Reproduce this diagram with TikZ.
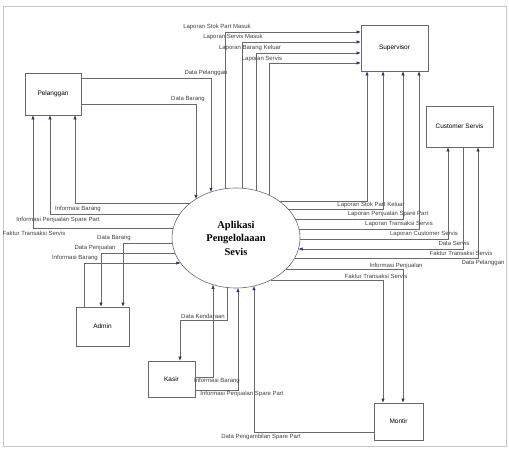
\documentclass[tikz,border=0pt]{standalone}
\usepackage{fontspec}
\setmainfont{Liberation Sans}
\newfontfamily\serifb{Liberation Serif}
\usetikzlibrary{arrows.meta,shapes.geometric}
\definecolor{linec}{RGB}{105,105,105}
\definecolor{arrowc}{RGB}{45,45,115}
\definecolor{framec}{RGB}{200,200,200}
\pgfmathdeclarefunction{etop}{1}{\begingroup\pgfmathparse{238-50*sqrt(1-((#1-236)/64)^2)}\pgfmathsmuggle\pgfmathresult\endgroup}
\pgfmathdeclarefunction{ebot}{1}{\begingroup\pgfmathparse{238+50*sqrt(1-((#1-236)/64)^2)}\pgfmathsmuggle\pgfmathresult\endgroup}
\pgfmathdeclarefunction{eleft}{1}{\begingroup\pgfmathparse{236-64*sqrt(1-((#1-238)/50)^2)}\pgfmathsmuggle\pgfmathresult\endgroup}
\pgfmathdeclarefunction{eright}{1}{\begingroup\pgfmathparse{236+64*sqrt(1-((#1-238)/50)^2)}\pgfmathsmuggle\pgfmathresult\endgroup}
\tikzset{
  ent/.style={draw=linec, line width=0.6bp, fill=white, inner sep=1bp, font=\fontsize{6.5}{8}\selectfont},
  flow/.style={draw=linec, line width=0.55bp, -{Latex[length=4.2bp,width=3.4bp,color=arrowc]}},
  lab/.style={font=\fontsize{6}{7}\selectfont, text=black!75, inner sep=0.3bp},
}
\begin{document}
\begin{tikzpicture}[x=1bp,y=-1bp]
\useasboundingbox (0,0) rectangle (509,450);
\draw[framec, line width=0.8bp] (3,6) rectangle (506,446);

% external entities
\node[ent, minimum width=56bp, minimum height=42bp] (pel) at (53,94) {Pelanggan};
\node[ent, minimum width=67bp, minimum height=46bp] (sup) at (394.5,48) {Supervisor};
\node[ent, minimum width=67bp, minimum height=41bp] (cs) at (459.5,126.5) {Customer Servis};
\node[ent, minimum width=53bp, minimum height=39bp] (adm) at (102.5,326.5) {Admin};
\node[ent, minimum width=47bp, minimum height=36bp] (kas) at (171.5,379) {Kasir};
\node[ent, minimum width=49bp, minimum height=37bp] (mon) at (398.5,421.5) {Montir};

% process
\node[draw=linec, line width=0.6bp, ellipse, minimum width=128bp, minimum height=100bp, inner sep=0,
      align=center, font=\serifb\bfseries\fontsize{10.5}{13.5}\selectfont] (sys) at (236,238)
      {Aplikasi\\Pengelolaaan\\Sevis};

% Pelanggan
\coordinate (pA) at ({211},{etop(211)});
\coordinate (pB) at ({196},{etop(196)});
\coordinate (pC) at ({eleft(203)},203);
\coordinate (pD) at ({eleft(214)},214);
\coordinate (pE) at ({eleft(228)},228);
\draw[flow] (pel.east |- 0,78) -| (pA);
\draw[flow] (pel.east |- 0,104) -| (pB);
\draw[flow] (pC) -| (pel.south -| 75,0);
\draw[flow] (pD) -| (pel.south -| 50,0);
\draw[flow] (pE) -| (pel.south -| 33,0);
\node[lab] (lp1) at (206,73) {Data Pelanggan};
\node[lab] (lp2) at (188,99) {Data Barang};
\node[lab] (lp3) at (78,209) {Informasi Barang};
\node[lab] (lp4) at (58,220) {Informasi Penjualan Spare Part};
\node[lab] (lp5) at (34,233) {Faktur Transaksi Servis};

% Admin
\coordinate (aA) at ({eleft(243)},243);
\coordinate (aB) at ({eleft(253)},253);
\coordinate (aC) at ({eleft(263)},263);
\draw[flow] (aA) -| (adm.north -| 123,0);
\draw[flow] (aB) -| (adm.north -| 101,0);
\draw[flow] (adm.north -| 84,0) |- (aC);
\node[lab] (la1) at (114,238) {Data Barang};
\node[lab] (la2) at (95,248) {Data Penjualan};
\node[lab] (la3) at (75,258) {Informasi Barang};

% Supervisor
\coordinate (sA) at ({225},{etop(225)});
\coordinate (sB) at ({242},{etop(242)});
\coordinate (sC) at ({256},{etop(256)});
\coordinate (sD) at ({269},{etop(269)});
\coordinate (sE) at ({eright(201)},201);
\coordinate (sF) at ({eright(209)},209);
\coordinate (sG) at ({eright(219)},219);
\coordinate (sH) at ({eright(229)},229);
\draw[flow] (sA) |- (sup.west |- 0,32);
\draw[flow] (sB) |- (sup.west |- 0,42);
\draw[flow] (sC) |- (sup.west |- 0,53);
\draw[flow] (sD) |- (sup.west |- 0,63);
\draw[flow] (sE) -| (sup.south -| 367,0);
\draw[flow] (sF) -| (sup.south -| 383,0);
\draw[flow] (sG) -| (sup.south -| 403,0);
\draw[flow] (sH) -| (sup.south -| 419,0);
\node[lab] (ls1) at (217,27) {Laporan Stok Part Masuk};
\node[lab] (ls2) at (233,37) {Laporan Servis Masuk};
\node[lab] (ls3) at (250,48) {Laporan Barang Keluar};
\node[lab] (ls4) at (262,58.5) {Laporan Servis};
\node[lab] (ls5) at (371,204.5) {Laporan Stok Part Keluar};
\node[lab] (ls6) at (388,213.5) {Laporan Penjualan Spare Part};
\node[lab] (ls7) at (399,224) {Laporan Transaksi Servis};
\node[lab] (ls8) at (424,233.5) {Laporan Customer Servis};

% Customer Servis
\coordinate (cA) at ({eright(239)},239);
\coordinate (cB) at ({eright(249)},249);
\coordinate (cC) at ({eright(258)},258);
\draw[flow] (cA) -| (cs.south -| 448,0);
\draw[flow] (cs.south -| 463,0) |- (cB);
\draw[flow] (cC) -| (cs.south -| 478,0);
\node[lab] (lc1) at (454,243.5) {Data Servis};
\node[lab] (lc2) at (461,253) {Faktur Transaksi Servis};
\node[lab] (lc3) at (483,263) {Data Pelanggan};

% Montir
\coordinate (mA) at ({eright(269)},269);
\coordinate (mB) at ({eright(280)},280);
\coordinate (mC) at ({254},{ebot(254)});
\draw[flow] (mA) -| (mon.north -| 403,0);
\draw[flow] (mB) -| (mon.north -| 383,0);
\draw[flow] (mon.west |- 0,432) -| (mC);
\node[lab] (lm1) at (396,265.5) {Informasi Penjualan};
\node[lab] (lm2) at (376,276) {Faktur Transaksi Servis};
\node[lab] (lm3) at (261,436.5) {Data Pengambilan Spare Part};

% Kasir
\coordinate (kA) at ({227},{ebot(227)});
\coordinate (kP) at (180,320);
\coordinate (kB) at ({213},{ebot(213)});
\coordinate (kC) at ({238},{ebot(238)});
\draw[flow] (kA) |- (kP) -- (kas.north -| kP);
\draw[flow] (kas.east |- 0,377) -| (kB);
\draw[flow] (kas.east |- 0,390) -| (kC);
\node[lab] (lk1) at (203,316) {Data Kendaraan};
\node[lab] (lk2) at (217,380.5) {Informasi Barang};
\node[lab] (lk3) at (242,393.5) {Informasi Penjualan Spare Part};
\end{tikzpicture}
\end{document}
